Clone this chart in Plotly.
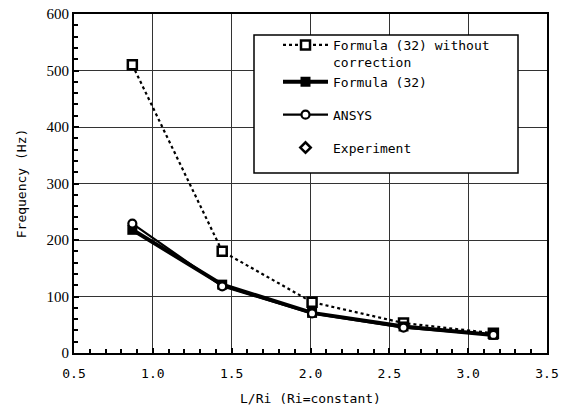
import plotly.graph_objects as go

# Data
x_lr = [0.87, 1.44, 2.01, 2.59, 3.16]
f_no_corr = [510, 180, 90, 53, 35]
f_32 = [218, 121, 71, 47, 32]
ansys = [229, 118, 70, 45, 32]
exp_x = [None]
exp_y = [None]

x_ticks = [0.5, 1.0, 1.5, 2.0, 2.5, 3.0, 3.5]
x_ticklabels = ["0.5", "1.0", "1.5", "2.0", "2.5", "3.0", "3.5"]
y_ticks = [0, 100, 200, 300, 400, 500, 600]

mono = "DejaVu Sans Mono"
serif = "Liberation Serif"

fig = go.Figure()
fig.add_trace(go.Scatter(
    x=x_lr, y=f_no_corr, name="Formula (32) without<br>correction",
    mode="lines+markers", legendgroup="g1",
    line=dict(color="black", width=2.2, dash="dot"),
    marker=dict(symbol="square", size=9, color="white", line=dict(color="black", width=2.5)),
))
fig.add_trace(go.Scatter(
    x=x_lr, y=f_32, name="Formula (32)",
    mode="lines+markers", legendgroup="g1",
    line=dict(color="black", width=4),
    marker=dict(symbol="square", size=10, color="black"),
))
fig.add_trace(go.Scatter(
    x=x_lr, y=ansys, name="ANSYS",
    mode="lines+markers", legendgroup="g2",
    line=dict(color="black", width=2.2),
    marker=dict(symbol="circle", size=8, color="white", line=dict(color="black", width=2.2)),
))
fig.add_trace(go.Scatter(
    x=exp_x, y=exp_y, name="Experiment",
    mode="markers", legendgroup="g3",
    marker=dict(symbol="diamond", size=8, color="white", line=dict(color="black", width=2.5)),
))

L, R, T, B = 74, 24, 14, 56
W, H = 571, 409
pw, ph = W - L - R, H - T - B

def px2paper_x(px):
    return (px - L) / pw

def px2paper_y(py):
    return (H - B - py) / ph

fig.add_shape(type="rect", xref="paper", yref="paper",
              x0=px2paper_x(254), x1=px2paper_x(518),
              y0=px2paper_y(173), y1=px2paper_y(35),
              line=dict(color="black", width=1.5), fillcolor="white", layer="above")

axis_common = dict(
    showline=True, linecolor="black", linewidth=2, mirror=True,
    showgrid=True, gridcolor="#333333", gridwidth=1,
    ticks="inside", ticklen=5, tickcolor="black", tickwidth=1.5,
    zeroline=False, automargin=False,
)

fig.update_layout(
    width=W, height=H,
    margin=dict(l=L, r=R, t=T, b=B),
    paper_bgcolor="white", plot_bgcolor="white",
    showlegend=True,
    legend=dict(
        x=px2paper_x(278), y=px2paper_y(30), xanchor="left", yanchor="top",
        bgcolor="rgba(0,0,0,0)", borderwidth=0,
        font=dict(family=mono, size=13, color="black"),
        valign="top", itemwidth=45, tracegroupgap=13,
        itemclick=False, itemdoubleclick=False,
    ),
    xaxis=dict(
        range=[0.5, 3.5], tickvals=x_ticks, ticktext=x_ticklabels,
        tickfont=dict(family=mono, size=13, color="black"),
        ticklabelstandoff=7,
        title=dict(text="L/Ri (Ri=constant)", font=dict(family=mono, size=13, color="black"), standoff=14),
        minor=dict(dtick=0.1, ticks="inside", ticklen=4, tickcolor="black", showgrid=False),
        **axis_common,
    ),
    yaxis=dict(
        range=[0, 600], tickvals=y_ticks,
        tickfont=dict(family=serif, size=15, color="black"),
        title=dict(text="Frequency (Hz)", font=dict(family=mono, size=13, color="black"), standoff=17),
        minor=dict(dtick=20, ticks="inside", ticklen=4, tickcolor="black", showgrid=False),
        **axis_common,
    ),
)

fig.write_html("out.html")
